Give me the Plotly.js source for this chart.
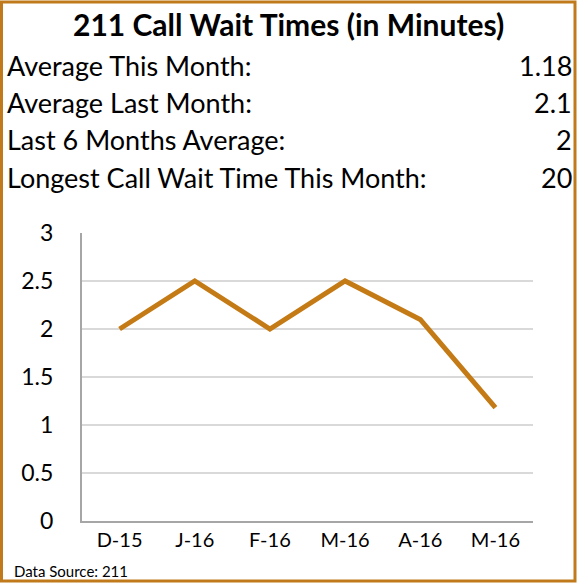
<!DOCTYPE html>
<html><head><meta charset="utf-8">
<script src="https://cdn.plot.ly/plotly-3.0.1.min.js"></script>
<style>html,body{margin:0;padding:0;background:#fff;}#chart{width:579px;height:583px;}</style>
</head><body><div id="chart"></div>
<script>
const months = ["D-15", "J-16", "F-16", "M-16", "A-16", "M-16"];
const waitTimes = [2, 2.5, 2, 2.5, 2.1, 1.18];
const statLabels = ["Average This Month:", "Average Last Month:", "Last 6 Months Average:", "Longest Call Wait Time This Month:"];
const statValues = ["1.18", "2.1", "2", "20"];
const titleText = "211 Call Wait Times (in Minutes)";
const sourceText = "Data Source: 211";

const W = 579, H = 583;
const L = 82, R = 533, T = 233, B = 521;
const px = x => (x - L) / (R - L);
const py = y => (B - y) / (B - T);
const FONT = "Lato, 'Open Sans', sans-serif";
const idx = months.map((_, i) => i);

const annotations = [];
annotations.push({text: "<b>" + titleText + "</b>", xref: "paper", yref: "paper", x: px(288), y: py(24),
  xanchor: "center", yanchor: "middle", showarrow: false, font: {family: FONT, size: 30, color: "#000"}});
const rowY = [65, 102, 140, 178];
statLabels.forEach((s, i) => {
  annotations.push({text: s, xref: "paper", yref: "paper", x: px(5), y: py(rowY[i]), xanchor: "left", yanchor: "middle",
    showarrow: false, font: {family: FONT, size: 27, color: "#000"}});
  annotations.push({text: statValues[i], xref: "paper", yref: "paper", x: px(574), y: py(rowY[i]), xanchor: "right", yanchor: "middle",
    showarrow: false, font: {family: FONT, size: 27, color: "#000"}});
});
annotations.push({text: sourceText, xref: "paper", yref: "paper", x: px(12), y: py(571), xanchor: "left", yanchor: "middle",
  showarrow: false, font: {family: FONT, size: 15, color: "#000"}});

Plotly.newPlot("chart", [{
  x: idx, y: waitTimes, type: "scatter", mode: "lines",
  line: {color: "#C47A15", width: 5}, hoverinfo: "skip"
}], {
  width: W, height: H,
  margin: {l: L, r: W - R, t: T, b: H - B, pad: 0},
  paper_bgcolor: "#fff", plot_bgcolor: "#fff",
  showlegend: false,
  xaxis: {range: [-0.5, 5.5], tickvals: idx, ticktext: months, showgrid: false, zeroline: false,
    showline: true, linecolor: "#A6A6A6", linewidth: 2, ticks: "", ticklen: 0,
    tickfont: {family: FONT, size: 20, color: "#000"}, fixedrange: true},
  yaxis: {range: [0, 3], dtick: 0.5, tick0: 0, showgrid: true, gridcolor: "#D9D9D9", gridwidth: 2,
    zeroline: false, showline: true, linecolor: "#A6A6A6", linewidth: 2, ticks: "outside", ticklen: 22, tickcolor: "rgba(0,0,0,0)",
    tickfont: {family: FONT, size: 23, color: "#000"}, fixedrange: true},
  annotations: annotations,
  shapes: [{type: "rect", xref: "paper", yref: "paper", x0: px(1.5), x1: px(575), y0: py(2), y1: py(581),
    line: {color: "#C07A1B", width: 3}, fillcolor: "rgba(0,0,0,0)", layer: "above"}]
}, {displayModeBar: false, staticPlot: true});
</script></body></html>
